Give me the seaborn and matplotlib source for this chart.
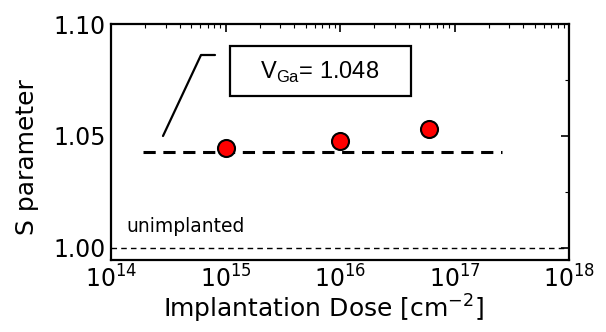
import numpy as np
import pandas as pd
import matplotlib
matplotlib.use("Agg")
import matplotlib.pyplot as plt
import seaborn as sns
from matplotlib.ticker import LogLocator, NullFormatter, MultipleLocator
from matplotlib.patches import Rectangle

dose = [1e15, 1e16, 6e16]
s_param = [1.0446, 1.0478, 1.0531]
vga_level = 1.043
vga_span = [1.9e14, 2.6e17]
unimplanted = 1.000
vga_label = "1.048"

sns.set_style("white")
plt.rcParams['font.family'] = ['DejaVu Sans']
plt.rcParams['text.color'] = 'black'
plt.rcParams['axes.labelcolor'] = 'black'
plt.rcParams['xtick.color'] = 'black'
plt.rcParams['ytick.color'] = 'black'

fig = plt.figure(figsize=(6.06, 3.32), dpi=100)
ax = fig.add_axes([111/606, 1-260/332, (569-111)/606, (260-24)/332])

df = pd.DataFrame({"dose": dose, "S": s_param})
sns.scatterplot(data=df, x="dose", y="S", ax=ax, s=150, color="#ff0000",
                edgecolor="black", linewidth=1.5, zorder=5)

ax.plot(vga_span, [vga_level, vga_level], ls=(0, (4, 2.5)), color="black", lw=2.2, zorder=3)
ax.axhline(unimplanted, ls=(0, (4, 3)), color="black", lw=1.0)

ax.set_xscale("log")
ax.set_xlim(1e14, 1e18)
ax.set_ylim(0.9946, 1.10)
ax.set_yticks([1.00, 1.05, 1.10])
ax.yaxis.set_minor_locator(MultipleLocator(0.025))
ax.xaxis.set_major_locator(LogLocator(base=10, numticks=10))
ax.xaxis.set_minor_locator(LogLocator(base=10, subs=np.arange(2, 10), numticks=10))
ax.xaxis.set_minor_formatter(NullFormatter())
ax.set_yticklabels(["1.00", "1.05", "1.10"])

for sp in ax.spines.values():
    sp.set_linewidth(1.6)
    sp.set_color("black")
ax.tick_params(which="both", direction="in", top=True, right=True, labelsize=17, pad=4)
ax.tick_params(which="major", length=6, width=1.2)
ax.tick_params(which="minor", length=3, width=0.8)

ax.set_xlabel("Implantation Dose [cm$^{-2}$]", fontsize=18)
ax.set_ylabel("S parameter", fontsize=18)
ax.xaxis.set_label_coords((323-111)/458, -(309-260)/236)
ax.yaxis.set_label_coords(-(111-27)/458, (260-157)/236)
ax.xaxis.label.set_va("center")
ax.yaxis.label.set_va("center")

ax.text(1.35e14, 1.0055, "unimplanted", fontsize=13.5, ha="left", va="bottom")

# annotation box
fig.add_artist(Rectangle((230/606, 1-96/332), 181/606, 50/332, transform=fig.transFigure,
                         fc="white", ec="black", lw=1.6))
fig.text(320/606, 1-72/332, "V$_{\\mathregular{Ga}}$= " + vga_label,
         fontsize=17, ha="center", va="center", family="Liberation Sans")
fig.add_artist(plt.Line2D([163/606, 201/606, 215/606], [1-136/332, 1-55/332, 1-55/332],
                          color="black", lw=1.6))

fig.savefig("out.png", dpi=100)
